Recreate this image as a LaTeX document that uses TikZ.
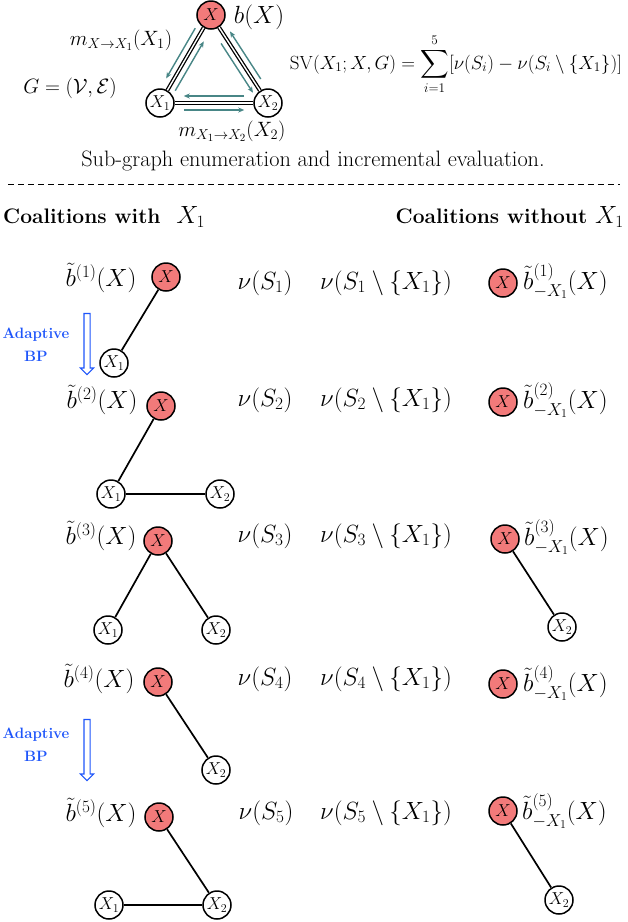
\documentclass[tikz,border=0pt]{standalone}
\usepackage{amsmath,amssymb}
\usepackage{graphicx}
\usetikzlibrary{calc,arrows.meta,shapes.arrows}
\definecolor{nodered}{RGB}{242,122,122}
\definecolor{msgteal}{RGB}{72,134,134}
\definecolor{bpblue}{RGB}{30,85,250}
\tikzset{
  vbase/.style={circle, draw=black, line width=1.5pt, minimum size=28pt, inner sep=0pt, font=\fontsize{17}{18}\selectfont},
  vred/.style={vbase, fill=nodered},
  vwhite/.style={vbase, fill=white},
  edgeline/.style={line width=1.7pt},
  dbl/.style={draw=black, double=white, line width=1.3pt, double distance=1.4pt},
  msg/.style={draw=msgteal, line width=1.4pt, -{Stealth[length=6pt,width=5pt]}},
  lbl/.style={inner sep=0pt, font=\fontsize{23}{26}\selectfont},
  hdr/.style={inner sep=0pt, font=\bfseries\fontsize{21}{24}\selectfont},
  bptext/.style={inner sep=0pt, align=center, text=bpblue, font=\bfseries\fontsize{15}{23}\selectfont},
  bparrow/.style={single arrow, draw=bpblue, fill=white, line width=1.1pt, minimum height=61pt, inner sep=2.5pt, single arrow head extend=3.5pt, shape border rotate=270},
}
\begin{document}
\begin{tikzpicture}[x=1pt,y=-1pt]
\useasboundingbox (0,0) rectangle (628,922);

% ---------- top graph ----------
\node[vred]   (T)  at (211,15)  {$X$};
\node[vwhite] (T1) at (160,103) {$X_1$};
\node[vwhite] (T2) at (268,103) {$X_2$};
\draw[dbl] (T) -- (T1);
\draw[dbl] (T) -- (T2);
\draw[dbl] (T1) -- (T2);
% messages
\draw[msg] ($(T)!0.19!(T1)!7pt!-90:(T1)$) -- ($(T)!0.76!(T1)!7pt!-90:(T1)$);
\draw[msg] ($(T)!0.82!(T1)!7pt!90:(T1)$) -- ($(T)!0.26!(T1)!7pt!90:(T1)$);
\draw[msg] ($(T)!0.28!(T2)!7pt!-90:(T2)$) -- ($(T)!0.84!(T2)!7pt!-90:(T2)$);
\draw[msg] ($(T)!0.77!(T2)!7pt!90:(T2)$) -- ($(T)!0.23!(T2)!7pt!90:(T2)$);
\draw[msg] ($(T1)!0.78!(T2)!7pt!90:(T2)$) -- ($(T1)!0.22!(T2)!7pt!90:(T2)$);
\draw[msg] ($(T1)!0.22!(T2)!7pt!-90:(T2)$) -- ($(T1)!0.78!(T2)!7pt!-90:(T2)$);

\node[lbl] (bX) at (259,17) {$b(X)$};
\node[lbl, font=\fontsize{22}{24}\selectfont] (mA) at (121,40) {$m_{X\to X_1}(X_1)$};
\node[lbl, font=\fontsize{22}{24}\selectfont] (G)  at (70,88) {$G=(\mathcal{V},\mathcal{E})$};
\node[lbl, font=\fontsize{22}{24}\selectfont] (mB) at (232,131) {$m_{X_1\to X_2}(X_2)$};
\node[lbl, font=\fontsize{18}{22}\selectfont] (SV) at (456,64)
  {\resizebox{332pt}{!}{$\displaystyle \mathrm{SV}(X_1;X,G)=\sum_{i=1}^{5}[\nu(S_i)-\nu(S_i\setminus\{X_1\})]$}};
\node[inner sep=0pt, font=\fontsize{22.3}{26}\selectfont] (cap) at (313,161) {Sub-graph enumeration and incremental evaluation.};

\coordinate (dL) at (8,184);
\coordinate (dR) at (620,184);
\draw[line width=0.9pt, dash pattern=on 6pt off 4pt] (dL) -- (dR);

\node[hdr, anchor=west] (h1) at (3,217) {Coalitions with\ \ {\fontsize{23}{26}\selectfont$X_1$}};
\node[hdr, anchor=east] (h2) at (624,217) {Coalitions without {\fontsize{23}{26}\selectfont$X_1$}};

% ---------- row 1 ----------
\node[lbl] (l1) at (101,278) {$\tilde b^{(1)}(X)$};
\node[vred]   (r1x)  at (166,277) {$X$};
\node[vwhite] (r1a)  at (114,363) {$X_1$};
\draw[edgeline] (r1x) -- (r1a);
\node[lbl] (n1) at (265,283) {$\nu(S_1)$};
\node[lbl] (w1) at (386,283) {$\nu(S_1\setminus\{X_1\})$};
\node[vred] (q1x) at (503,283) {$X$};
\node[lbl, anchor=west] (k1) at (523,281) {$\tilde b^{(1)}_{-X_1}(X)$};

\node[bptext] (bp1) at (36,345) {Adaptive\\BP};
\node[bparrow] (ar1) at (87,342.5) {};

% ---------- row 2 ----------
\node[lbl] (l2) at (102,400) {$\tilde b^{(2)}(X)$};
\node[vred]   (r2x)  at (161,406) {$X$};
\node[vwhite] (r2a)  at (111,494) {$X_1$};
\node[vwhite] (r2b)  at (220,494) {$X_2$};
\draw[edgeline] (r2x) -- (r2a);
\draw[edgeline] (r2a) -- (r2b);
\node[lbl] (n2) at (265,400) {$\nu(S_2)$};
\node[lbl] (w2) at (386,400) {$\nu(S_2\setminus\{X_1\})$};
\node[vred] (q2x) at (503,402) {$X$};
\node[lbl, anchor=west] (k2) at (523,400) {$\tilde b^{(2)}_{-X_1}(X)$};

% ---------- row 3 ----------
\node[lbl] (l3) at (101,536) {$\tilde b^{(3)}(X)$};
\node[vred]   (r3x)  at (158,541) {$X$};
\node[vwhite] (r3a)  at (108,630) {$X_1$};
\node[vwhite] (r3b)  at (216,630) {$X_2$};
\draw[edgeline] (r3x) -- (r3a);
\draw[edgeline] (r3x) -- (r3b);
\node[lbl] (n3) at (265,536) {$\nu(S_3)$};
\node[lbl] (w3) at (386,536) {$\nu(S_3\setminus\{X_1\})$};
\node[vred]   (q3x) at (505,539) {$X$};
\node[vwhite] (q3b) at (562,627) {$X_2$};
\draw[edgeline] (q3x) -- (q3b);
\node[lbl, anchor=west] (k3) at (524,537) {$\tilde b^{(3)}_{-X_1}(X)$};

% ---------- row 4 ----------
\node[lbl] (l4) at (99,679) {$\tilde b^{(4)}(X)$};
\node[vred]   (r4x)  at (158,682) {$X$};
\node[vwhite] (r4b)  at (216,770) {$X_2$};
\draw[edgeline] (r4x) -- (r4b);
\node[lbl] (n4) at (265,679) {$\nu(S_4)$};
\node[lbl] (w4) at (386,679) {$\nu(S_4\setminus\{X_1\})$};
\node[vred] (q4x) at (503,684) {$X$};
\node[lbl, anchor=west] (k4) at (523,683) {$\tilde b^{(4)}_{-X_1}(X)$};

\node[bptext] (bp2) at (36,745) {Adaptive\\BP};
\node[bparrow] (ar2) at (87,748.5) {};

% ---------- row 5 ----------
\node[lbl] (l5) at (101,813) {$\tilde b^{(5)}(X)$};
\node[vred]   (r5x)  at (159,817) {$X$};
\node[vwhite] (r5a)  at (109,905) {$X_1$};
\node[vwhite] (r5b)  at (217,905) {$X_2$};
\draw[edgeline] (r5x) -- (r5b);
\draw[edgeline] (r5a) -- (r5b);
\node[lbl] (n5) at (266,813) {$\nu(S_5)$};
\node[lbl] (w5) at (386,813) {$\nu(S_5\setminus\{X_1\})$};
\node[vred]   (q5x) at (503,811) {$X$};
\node[vwhite] (q5b) at (559,900) {$X_2$};
\draw[edgeline] (q5x) -- (q5b);
\node[lbl, anchor=west] (k5) at (522,811) {$\tilde b^{(5)}_{-X_1}(X)$};
\end{tikzpicture}
\end{document}
